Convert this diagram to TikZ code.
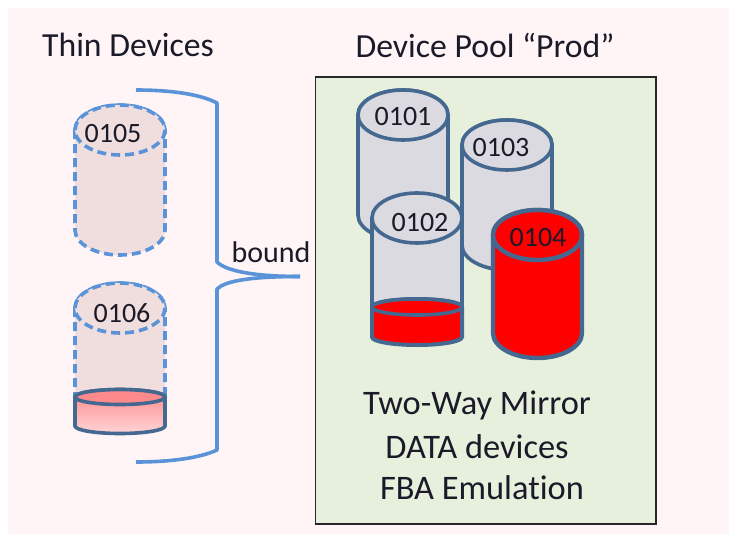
\documentclass[tikz,border=0pt]{standalone}
\usepackage{fontspec}
\setmainfont[Ligatures=NoCommon]{Carlito}
\definecolor{pagepink}{HTML}{FFF5F6}
\definecolor{poolgreen}{HTML}{E7F0DD}
\definecolor{cylline}{HTML}{44688F}
\definecolor{dashblue}{HTML}{5A93D8}
\definecolor{thinfill}{HTML}{F0DEDE}
\definecolor{greyfill}{HTML}{DADAE0}
\definecolor{inktext}{HTML}{1A1A28}
\definecolor{pinktop}{HTML}{FF8A8C}
\definecolor{pinkbot}{HTML}{FFD4D6}
% \Body{style}{left}{right}{top cy}{bottom side y}{ry}
\newcommand{\Body}[6]{\path[#1] (#2,#4) -- (#2,#5) arc[start angle=180,end angle=0,x radius={(#3-#2)/2},y radius=#6] -- (#3,#4) arc[start angle=0,end angle=-180,x radius={(#3-#2)/2},y radius=#6] -- cycle;}
% \Lid{style}{left}{right}{cy}{ry}
\newcommand{\Lid}[5]{\path[#1] ({(#2+#3)/2},#4) ellipse[x radius={(#3-#2)/2},y radius=#5];}
\tikzset{
  x=1pt,y=-1pt,
  every node/.style={text=inktext,inner sep=0pt},
  headtext/.style={font=\fontsize{33.7}{36}\selectfont},
  pooltext/.style={font=\fontsize{34.4}{36}\selectfont},
  numtext/.style={font=\fontsize{28}{30}\selectfont},
  boundtext/.style={font=\fontsize{30}{32}\selectfont},
  solidcyl/.style={draw=cylline,line width=3.6pt,fill=greyfill},
  redcyl/.style={draw=cylline,line width=4.4pt,fill=red},
  thincyl/.style={draw=dashblue,line width=3.6pt,dash pattern=on 9pt off 5pt,fill=thinfill},
  bracket/.style={draw=dashblue,line width=3.6pt,line join=round},
}
\begin{document}
\begin{tikzpicture}
\useasboundingbox (0,0) rectangle (729,536);
\fill[white] (0,0) rectangle (729,536);
\fill[pagepink] (7.5,8) rectangle (729,534);
% pool
\draw[draw=black!85,line width=1.8pt,fill=poolgreen] (315.5,77) rectangle (656,524);
% thin devices
\Body{thincyl}{75}{165}{130}{230}{25}
\Lid{thincyl}{75}{165}{130}{25}
\Body{thincyl}{75}{165}{308}{415}{25}
\Lid{thincyl}{75}{165}{308}{25}
\fill[pagepink] (70,412) rectangle (170,445);
\Body{draw=cylline,line width=3.6pt,top color=pinktop,bottom color=pinkbot}{75}{165}{397}{426}{7.5}
\Lid{draw=cylline,line width=3.6pt,fill=pinktop}{75}{165}{397}{7.5}
% bracket
\coordinate (bracetop) at (136,90);
\coordinate (bracetip) at (300,276.5);
\coordinate (bracebot) at (136,462);
\draw[bracket] (bracetop) .. controls (170,90) and (200,94) .. (217,103) -- (217,262) .. controls (225,270) and (250,276.5) .. (bracetip);
\draw[bracket] (bracebot) .. controls (170,462) and (200,458) .. (217,450) -- (217,289) .. controls (225,281) and (250,276.5) .. (bracetip);
% pool devices
\Body{solidcyl}{358}{448}{115}{215}{25}
\Lid{solidcyl}{358}{448}{115}{25}
\Body{solidcyl}{462}{552}{145}{245}{25}
\Lid{solidcyl}{462}{552}{145}{25}
\Body{solidcyl}{372}{462}{218}{307}{8}
\Body{draw=cylline,line width=4pt,fill=red}{372}{462}{307}{337}{8}
\Lid{draw=cylline,line width=3.6pt,fill=red}{372}{462}{307}{8}
\Lid{solidcyl}{372}{462}{218}{25}
\Body{redcyl}{493}{582}{235}{333}{25}
\Lid{redcyl}{493}{582}{235}{25}
% labels
\node[headtext] (thinhead) at (128,45) {Thin Devices};
\node[headtext] (poolhead) at (485,45) {Device Pool “Prod”};
\node[numtext] (d0105) at (113,134) {0105};
\node[numtext] (d0106) at (122,313) {0106};
\node[numtext] (d0101) at (403,117) {0101};
\node[numtext] (d0103) at (501,148) {0103};
\node[numtext] (d0102) at (420,223) {0102};
\node[numtext] (d0104) at (538,238) {0104};
\node[boundtext] (boundlbl) at (271,252) {bound};
\node[pooltext] (mirror) at (477,405) {Two-Way Mirror};
\node[pooltext] (datadev) at (477,447) {DATA devices};
\node[pooltext] (fbaemu) at (482,488) {FBA Emulation};
\end{tikzpicture}
\end{document}
